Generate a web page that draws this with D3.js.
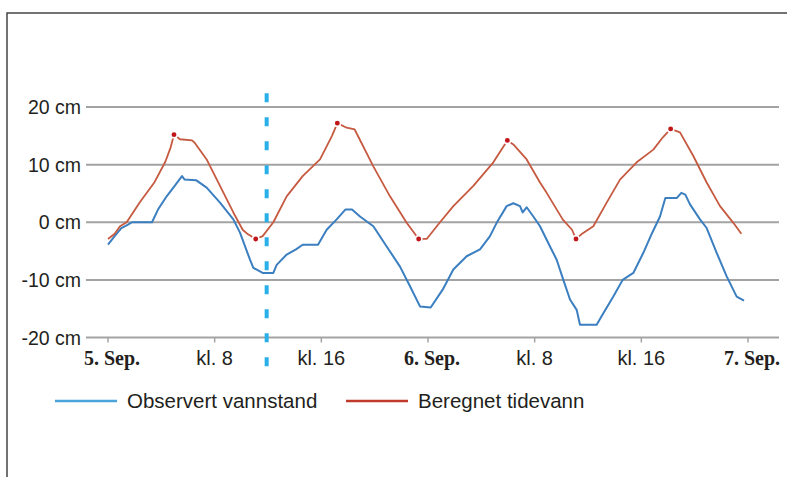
<!DOCTYPE html>
<html>
<head>
<meta charset="utf-8">
<script src="https://cdn.jsdelivr.net/npm/d3@7"></script>
<style>
  body { margin: 0; background: #fff; }
  svg { display: block; }
</style>
</head>
<body>
<svg id="chart" width="787" height="477"></svg>
<script>
// hours since 5. Sep. 00:00, water level in cm
var obsHours = [0, 0.5, 1.0, 1.5, 1.8, 3.3, 3.75, 4.4, 5.0, 5.55, 5.75, 6.6, 7.4, 8.4, 9.4, 9.9, 10.65, 10.9, 11.6, 12.4,
  12.65, 13.4, 14.1, 14.6, 15.75, 16.4, 17.15, 17.8, 18.3, 18.9, 19.9, 20.9, 21.9, 22.65, 23.4, 24.2, 25.1, 25.9, 26.9,
  27.9, 28.65, 29.15, 29.9, 30.4, 30.9, 31.1, 31.4, 31.9, 32.4, 33.15, 33.65, 34.15, 34.65, 35.15, 35.4, 36.65, 37.15,
  37.9, 38.6, 39.4, 40.15, 40.8, 41.4, 41.8, 42.65, 43.0, 43.3, 43.65, 44.4, 44.9, 45.65, 46.4, 47.15, 47.7];
var obsValues = [-3.9, -2.4, -1.0, -0.4, 0, 0, 2.2, 4.5, 6.3, 8.0, 7.4, 7.3, 6.0, 3.4, 0.5, -1.8, -6.5, -7.9, -8.8, -8.8,
  -7.4, -5.6, -4.7, -3.9, -3.9, -1.3, 0.5, 2.2, 2.2, 1.0, -0.7, -4.2, -7.7, -11.1, -14.6, -14.8, -11.7, -8.2, -5.9,
  -4.7, -2.4, -0.1, 2.8, 3.3, 2.8, 1.7, 2.6, 1.0, -0.7, -4.2, -6.5, -10.0, -13.4, -15.2, -17.8, -17.8, -15.8,
  -12.9, -10.0, -8.8, -5.3, -1.9, 1.0, 4.2, 4.2, 5.1, 4.8, 3.1, 0.5, -1.0, -5.3, -9.4, -12.9, -13.6];

var tideHours = [0, 0.5, 0.9, 1.4, 2.4, 3.5, 4.3, 4.7, 4.95, 5.4, 6.3, 6.5, 7.4, 8.4, 9.4, 10.1, 10.5, 11.08, 11.6, 12.4,
  13.4, 14.6, 15.9, 16.8, 17.2, 17.9, 18.5, 19.9, 21.15, 22.4, 23.3, 23.9, 24.9, 25.9, 27.4, 28.9, 29.95, 30.4, 31.4,
  32.4, 32.9, 34.1, 34.8, 35.1, 35.5, 36.4, 37.4, 38.4, 39.65, 40.9, 41.6, 42.2, 42.9, 43.9, 44.9, 45.9, 46.9, 47.5];
var tideValues = [-2.9, -2.0, -0.7, 0, 3.5, 7.0, 10.5, 13.0, 15.2, 14.4, 14.2, 13.8, 10.9, 6.3, 1.7, -1.3, -2.1, -2.9, -2.4, 0,
  4.5, 8.0, 10.9, 15.0, 17.2, 16.4, 16.1, 9.7, 4.5, -0.1, -2.9, -2.9, 0, 2.8, 6.3, 10.4, 14.2, 13.5, 10.9,
  6.9, 5.1, 0.5, -1.3, -2.9, -2.1, -0.7, 3.4, 7.4, 10.4, 12.6, 14.7, 16.2, 15.6, 11.5, 6.9, 2.8, -0.1, -2.0];
// high and low tide markers
var extremeHours = [4.95, 11.08, 17.2, 23.3, 29.95, 35.1, 42.2];
var extremeValues = [15.2, -2.9, 17.2, -2.9, 14.2, -2.9, 16.2];

var yTicks = [20, 10, 0, -10, -20];
var xTicks = [0, 8, 16, 24, 32, 40, 48];
var xTickLabels = ["5. Sep.", "kl. 8", "kl. 16", "6. Sep.", "kl. 8", "kl. 16", "7. Sep."];
var markerHour = 11.9;
var seriesNames = ["Observert vannstand", "Beregnet tidevann"];

var svg = d3.select("#chart");

// frame (right and bottom edges fall outside the picture)
svg.append("rect")
  .attr("x", 7).attr("y", 13).attr("width", 800).attr("height", 480)
  .attr("fill", "none").attr("stroke", "#444").attr("stroke-width", 1.5);

var x = d3.scaleLinear().domain([0, 48]).range([108, 748]);
var y = d3.scaleLinear().domain([-20, 20]).range([337.5, 107]);

// grid
svg.append("g").selectAll("line").data(yTicks).enter().append("line")
  .attr("x1", 86).attr("x2", 779)
  .attr("y1", function(d) { return y(d); })
  .attr("y2", function(d) { return y(d); })
  .attr("stroke", "#a3a3a3").attr("stroke-width", 2);

svg.append("g").selectAll("text").data(yTicks).enter().append("text")
  .attr("x", 81).attr("y", function(d) { return y(d); })
  .attr("dy", "0.36em")
  .attr("text-anchor", "end")
  .attr("font-family", "Liberation Sans, Arial, sans-serif")
  .attr("font-size", 19.5).attr("fill", "#231f20")
  .text(function(d) { return d + " cm"; });

// x axis ticks and labels
svg.append("g").selectAll("line").data(xTicks).enter().append("line")
  .attr("x1", function(d) { return x(d); })
  .attr("x2", function(d) { return x(d); })
  .attr("y1", y(-20)).attr("y2", y(-20) + 5)
  .attr("stroke", "#a3a3a3").attr("stroke-width", 1.5);

svg.append("g").selectAll("text").data(xTicks).enter().append("text")
  .attr("x", function(d, i) { return x(d) + (i % 3 === 0 ? 4 : 0); })
  .attr("y", 365)
  .attr("text-anchor", "middle")
  .attr("font-family", function(d, i) { return i % 3 === 0 ? "Liberation Serif, Times New Roman, serif" : "Liberation Sans, Arial, sans-serif"; })
  .attr("font-weight", function(d, i) { return i % 3 === 0 ? "bold" : "normal"; })
  .attr("font-size", 20).attr("fill", "#231f20")
  .text(function(d, i) { return xTickLabels[i]; });

// dashed marker line
svg.append("line")
  .attr("x1", x(markerHour)).attr("x2", x(markerHour))
  .attr("y1", y(22.4)).attr("y2", y(-25.5))
  .attr("stroke", "#29b0e8").attr("stroke-width", 4)
  .attr("stroke-dasharray", "9,15");

var line = d3.line()
  .x(function(d) { return x(d[0]); })
  .y(function(d) { return y(d[1]); });

svg.append("path")
  .datum(obsHours.map(function(h, i) { return [h, obsValues[i]]; }))
  .attr("d", line)
  .attr("fill", "none").attr("stroke", "#3b7fc1").attr("stroke-width", 2)
  .attr("stroke-linejoin", "round");

svg.append("path")
  .datum(tideHours.map(function(h, i) { return [h, tideValues[i]]; }))
  .attr("d", line)
  .attr("fill", "none").attr("stroke", "#c65a40").attr("stroke-width", 1.8)
  .attr("stroke-linejoin", "round");

svg.append("g").selectAll("circle").data(extremeHours).enter().append("circle")
  .attr("cx", function(d) { return x(d); })
  .attr("cy", function(d, i) { return y(extremeValues[i]); })
  .attr("r", 3.2)
  .attr("fill", "#c0161a").attr("stroke", "#fff").attr("stroke-width", 1.5);

// legend
var legendColors = ["#4aa3db", "#c0392b"];
var legendX = [55, 346];
var legend = svg.append("g").selectAll("g").data(seriesNames).enter().append("g")
  .attr("transform", function(d, i) { return "translate(" + legendX[i] + ",401)"; });
legend.append("line")
  .attr("x1", 0).attr("x2", 62)
  .attr("stroke", function(d, i) { return legendColors[i]; })
  .attr("stroke-width", 2.5);
legend.append("text")
  .attr("x", 72).attr("dy", "0.36em")
  .attr("font-family", "Liberation Sans, Arial, sans-serif")
  .attr("font-size", 20.5).attr("fill", "#231f20")
  .text(function(d) { return d; });
</script>
</body>
</html>
